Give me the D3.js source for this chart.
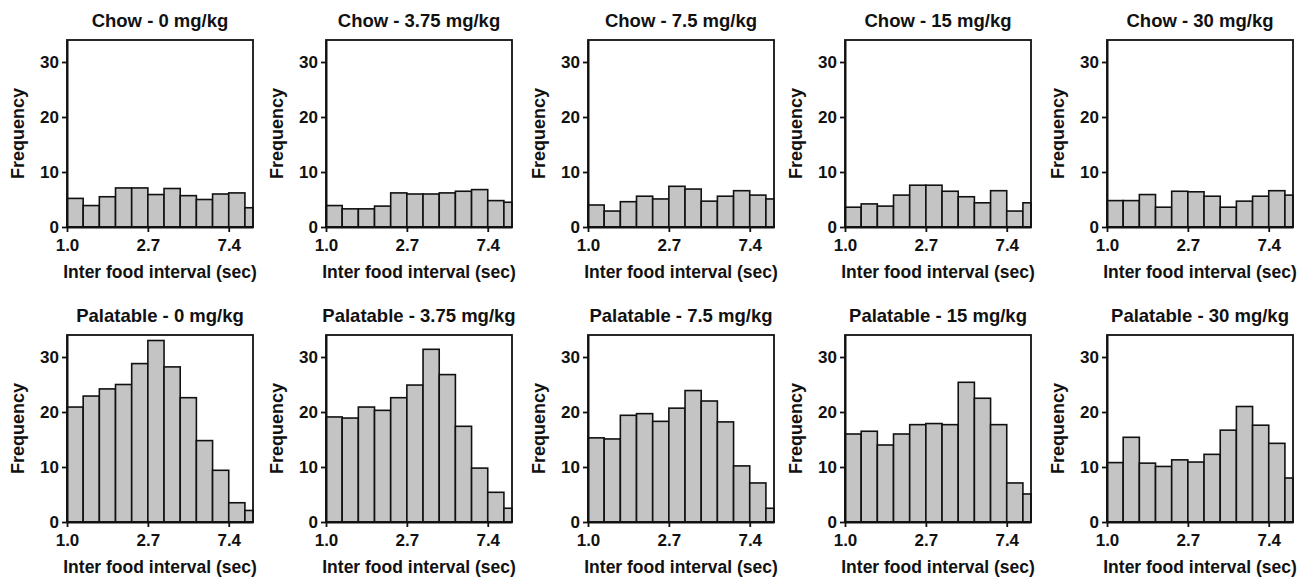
<!DOCTYPE html>
<html>
<head>
<meta charset="utf-8">
<script src="https://cdn.jsdelivr.net/npm/d3@7"></script>
<style>
  body { margin: 0; background: #fff; }
  text { font-family: "Liberation Sans", Arial, sans-serif; font-weight: bold; fill: #111; }
</style>
</head>
<body>
<script>
// bin edges (sec) on a log axis: e^0, e^0.2, ... e^2.4
const binEdges = [1.0, 1.2214, 1.4918, 1.8221, 2.2255, 2.7183, 3.3201, 4.0552, 4.9530, 6.0496, 7.3891, 9.0250, 11.0232];
const xTickValues = [1.0, 2.7183, 7.3891];
const xTickLabels = ["1.0", "2.7", "7.4"];
const yTickValues = [0, 10, 20, 30];

const titles = [
    "Chow - 0 mg/kg", "Chow - 3.75 mg/kg", "Chow - 7.5 mg/kg", "Chow - 15 mg/kg", "Chow - 30 mg/kg",
    "Palatable - 0 mg/kg", "Palatable - 3.75 mg/kg", "Palatable - 7.5 mg/kg", "Palatable - 15 mg/kg", "Palatable - 30 mg/kg"
];

const chow0    = [5.2, 3.9, 5.5, 7.1, 7.1, 5.9, 7.0, 5.7, 5.0, 6.0, 6.2, 3.5];
const chow375  = [3.9, 3.3, 3.3, 3.8, 6.2, 6.0, 6.0, 6.2, 6.5, 6.8, 4.8, 4.5];
const chow75   = [4.0, 2.9, 4.6, 5.6, 5.1, 7.4, 6.9, 4.7, 5.6, 6.6, 5.8, 5.1];
const chow15   = [3.6, 4.2, 3.8, 5.8, 7.6, 7.6, 6.5, 5.5, 4.4, 6.6, 2.9, 4.4];
const chow30   = [4.8, 4.8, 5.9, 3.6, 6.5, 6.4, 5.6, 3.6, 4.7, 5.6, 6.6, 5.8];
const pal0     = [20.9, 22.9, 24.2, 25.0, 28.8, 33.0, 28.2, 22.6, 14.8, 9.4, 3.5, 2.1];
const pal375   = [19.1, 18.9, 20.9, 20.3, 22.6, 24.9, 31.4, 26.8, 17.4, 9.8, 5.4, 2.5];
const pal75    = [15.3, 15.1, 19.4, 19.7, 18.3, 20.7, 23.9, 22.0, 18.2, 10.2, 7.1, 2.5];
const pal15    = [16.0, 16.5, 14.0, 16.0, 17.7, 17.9, 17.7, 25.4, 22.5, 17.7, 7.1, 5.1];
const pal30    = [10.8, 15.4, 10.7, 10.1, 11.3, 10.9, 12.3, 16.7, 21.0, 17.6, 14.3, 8.0];

const series = [chow0, chow375, chow75, chow15, chow30, pal0, pal375, pal75, pal15, pal30];

function init() {
    "use strict";

    const w = 1308;
    const h = 579;
    const panelLefts = [67, 326, 588, 845, 1107];
    const rowTops = [40, 335];
    const pw = 186;
    const ph = 187;

    const svg = d3.select("body")
        .append("svg")
        .attr("width", w)
        .attr("height", h);

    series.forEach((values, i) => {
        const left = panelLefts[i % 5];
        const top = rowTops[Math.floor(i / 5)];

        const xScale = d3.scaleLog()
            .domain([1, Math.exp(2.3)])
            .range([0, pw])
            .clamp(true);
        const yScale = d3.scaleLinear()
            .domain([0, 34])
            .range([ph, 0]);

        const g = svg.append("g")
            .attr("transform", "translate(" + left + "," + top + ")");

        const bins = values.map((v, k) => ({ x0: binEdges[k], x1: binEdges[k + 1], v: v }));

        g.selectAll("rect.bar")
            .data(bins)
            .enter()
            .append("rect")
                .attr("class", "bar")
                .attr("x", d => xScale(d.x0))
                .attr("y", d => yScale(d.v))
                .attr("width", d => xScale(d.x1) - xScale(d.x0))
                .attr("height", d => ph - yScale(d.v))
                .attr("fill", "#c4c4c4")
                .attr("stroke", "#111")
                .attr("stroke-width", 1.6);

        // frame
        g.append("rect")
            .attr("width", pw)
            .attr("height", ph)
            .attr("fill", "none")
            .attr("stroke", "#111")
            .attr("stroke-width", 1.8);

        const xAxis = d3.axisBottom(xScale)
            .tickValues(xTickValues)
            .tickFormat((d, k) => xTickLabels[k])
            .tickSize(5)
            .tickSizeOuter(0);
        const yAxis = d3.axisLeft(yScale)
            .tickValues(yTickValues)
            .tickSize(5)
            .tickSizeOuter(0);

        const gx = g.append("g")
            .attr("transform", "translate(0," + ph + ")")
            .call(xAxis);
        gx.select(".domain").attr("stroke", "#111").attr("stroke-width", 2);
        gx.selectAll(".tick line").attr("stroke", "#111").attr("stroke-width", 1.8);
        gx.selectAll(".tick text")
            .attr("y", 12)
            .attr("dy", "0.71em")
            .style("font-size", "17px")
            .style("font-family", "'Liberation Sans', Arial, sans-serif")
            .style("font-weight", "bold")
            .attr("fill", "#111");

        const gy = g.append("g").call(yAxis);
        gy.select(".domain").attr("stroke", "#111").attr("stroke-width", 2);
        gy.selectAll(".tick line").attr("stroke", "#111").attr("stroke-width", 1.8);
        gy.selectAll(".tick text")
            .attr("x", -8)
            .style("font-size", "17px")
            .style("font-family", "'Liberation Sans', Arial, sans-serif")
            .style("font-weight", "bold")
            .attr("fill", "#111");

        // titles and axis labels
        g.append("text")
            .attr("x", pw / 2)
            .attr("y", -13)
            .attr("text-anchor", "middle")
            .style("font-size", "18.5px")
            .text(titles[i]);

        g.append("text")
            .attr("x", pw / 2)
            .attr("y", ph + 51)
            .attr("text-anchor", "middle")
            .style("font-size", "17.5px")
            .text("Inter food interval (sec)");

        g.append("text")
            .attr("transform", "translate(-43," + (ph / 2) + ") rotate(-90)")
            .attr("text-anchor", "middle")
            .style("font-size", "18px")
            .text("Frequency");
    });
}

window.onload = init;
</script>
</body>
</html>
